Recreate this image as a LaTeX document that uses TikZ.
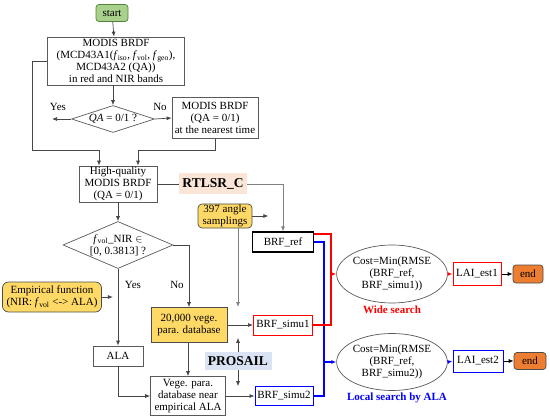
\documentclass[tikz,border=0pt]{standalone}
\usepackage{fontspec}
\setmainfont{Liberation Serif}
\usetikzlibrary{shapes.geometric,arrows.meta}
\definecolor{grfill}{RGB}{169,209,142}
\definecolor{grdraw}{RGB}{84,130,53}
\definecolor{yel}{RGB}{255,217,102}
\definecolor{orng}{RGB}{237,125,49}
\definecolor{peach}{RGB}{251,229,214}
\definecolor{lblue}{RGB}{218,227,243}
\definecolor{lnc}{RGB}{70,70,70}
\begin{document}
\begin{tikzpicture}[x=1pt,y=-1pt,
  font=\fontsize{11}{12}\selectfont,
  box/.style={draw=gray!70!black, line width=0.7pt, fill=white, align=center, inner sep=1pt},
  ybox/.style={box, fill=yel, draw=gray!60!black},
  dia/.style={draw=gray!70!black, line width=0.7pt, diamond, inner sep=0pt},
  ell/.style={draw=gray!70!black, line width=0.7pt, ellipse, inner sep=0pt, align=center},
  arr/.style={draw=lnc, line width=0.7pt, -{Latex[length=5pt,width=4pt]}},
  ln/.style={draw=lnc, line width=0.7pt},
  garr/.style={draw=gray, line width=0.8pt, -{Latex[length=5pt,width=4pt]}},
  rarr/.style={draw=red, line width=1.1pt, -{Latex[length=5pt,width=4pt]}},
  barr/.style={draw=blue, line width=1.1pt, -{Latex[length=5pt,width=4pt]}},
  lbl/.style={inner sep=0pt},
  bigl/.style={font=\fontsize{13.5}{14}\selectfont\bfseries, inner sep=0pt}
]
\useasboundingbox (0,0) rectangle (550,420);

% nodes
\node[box, fill=grfill, draw=grdraw, rounded corners=3pt, minimum width=32pt, minimum height=17pt] (start) at (112,13) {start};
\node[box, minimum width=137pt, minimum height=48pt] (modis) at (116,61)
  {MODIS BRDF\\(MCD43A1(\textit{f}\textsubscript{iso}, \textit{f}\textsubscript{vol}, \textit{f}\textsubscript{geo}),\\MCD43A2 (QA))\\in red and NIR bands};
\node[dia, minimum width=83pt, minimum height=27pt] (d1) at (113,119) {};
\node[lbl] at (d1) {\textit{QA} = 0/1 ?};
\node[box, minimum width=86pt, minimum height=41pt] (box2) at (215,118)
  {MODIS BRDF\\(QA = 0/1)\\at the nearest time};
\node[box, minimum width=78pt, minimum height=35pt] (hq) at (118,184)
  {High-quality\\MODIS BRDF\\(QA = 0/1)};
\node[bigl, fill=peach, minimum width=68pt, minimum height=21pt] (rtlsr) at (213,184) {RTLSR\_C};
\node[ybox, rounded corners=4pt, minimum width=54pt, minimum height=22pt] (ang) at (225,216) {397 angle\\samplings};
\node[box, draw=black, line width=1.2pt, minimum width=61pt, minimum height=20pt] (brfref) at (283,242) {BRF\_ref};
\node[dia, minimum width=110pt, minimum height=47pt] (d2) at (118,245) {};
\node[lbl, align=center] at (d2) {\textit{f}\textsubscript{vol}\_NIR $\in$\\{}[0, 0.3813] ?};
\node[ybox, rounded corners=6pt, minimum width=99pt, minimum height=30pt] (emp) at (52,297)
  {Empirical function\\(NIR: \textit{f}\textsubscript{vol} <-> ALA)};
\node[ybox, minimum width=76pt, minimum height=35pt] (db) at (189,325) {20,000 vege.\\para. database};
\node[box, draw=red, line width=1pt, minimum width=59pt, minimum height=20pt] (simu1) at (283,325) {BRF\_simu1};
\node[box, minimum width=50pt, minimum height=20pt] (ala) at (118,356) {ALA};
\node[bigl, fill=lblue, minimum width=67pt, minimum height=18pt] (prosail) at (238,361) {PROSAIL};
\node[box, minimum width=75pt, minimum height=39pt] (vege) at (188,396) {Vege. para.\\database near\\empirical ALA};
\node[box, draw=blue, line width=1pt, minimum width=58pt, minimum height=19pt] (simu2) at (284,396) {BRF\_simu2};
\node[ell, minimum width=95pt, minimum height=58pt] (e1) at (392,274) {Cost=Min(RMSE\\(BRF\_ref,\\BRF\_simu1))};
\node[box, draw=red, line width=1pt, minimum width=48pt, minimum height=23pt] (lai1) at (477,274) {LAI\_est1};
\node[box, fill=orng, draw=gray!60!black, rounded corners=3pt, minimum width=30pt, minimum height=18pt] (end1) at (528,274) {end};
\node[lbl, text=red, font=\fontsize{11}{12}\selectfont\bfseries] (wide) at (392,310) {Wide search};
\node[ell, minimum width=95pt, minimum height=57pt] (e2) at (392,362) {Cost=Min(RMSE\\(BRF\_ref,\\BRF\_simu2))};
\node[box, draw=blue, line width=1pt, minimum width=50pt, minimum height=22pt] (lai2) at (478,361) {LAI\_est2};
\node[box, fill=orng, draw=gray!60!black, rounded corners=3pt, minimum width=32pt, minimum height=17pt] (end2) at (530,361) {end};
\node[lbl, text=blue, font=\fontsize{11}{12}\selectfont\bfseries] (local) at (397,398) {Local search by ALA};

% labels
\node[lbl] (yes1) at (58,107) {Yes};
\node[lbl] (no1) at (160,107) {No};
\node[lbl] (yes2) at (133,285) {Yes};
\node[lbl] (no2) at (177,285) {No};

% coordinates
\coordinate (yesend) at (52,119);
\coordinate (lcorner) at (32,150);
\coordinate (angend) at (238,307);
\coordinate (rx) at (331,274);
\coordinate (bx) at (324,362);

% connectors
\draw[arr] (start) -- (modis);
\draw[arr] (modis.south -| d1.north) -- (d1.north);
\draw[arr] (d1.west) -- (yesend);
\draw[arr] (d1.east) -- (box2.west);
\draw[arr] (modis.west) -| (lcorner) -| ([xshift=-19pt]hq.north);
\draw[arr] (box2.south) -- ++(0,12) -| ([xshift=20pt]hq.north);
\draw[arr] (hq.south) -- (d2.north);
\draw[ln] (hq.east) -- (rtlsr.west);
\draw[garr] (rtlsr.east) -| (brfref.north);
\draw[arr] (ang.east) -- ++(16,0);
\draw[garr] (ang.south -| angend) -- (angend);
\draw[arr] (d2.east) -| (db.north);
\draw[arr] (d2.south) -- (ala.north);
\draw[arr] (emp.east) -- ++(11,0);
\draw[arr] (db.south -| vege.north) -- (vege.north);
\draw[arr] (ala.south) |- (vege.west);
\draw[arr] (db.east) -- (simu1.west);
\draw[arr] (vege.east) -- (simu2.west);
\draw[arr] (prosail.north) -- ++(0,-14);
\draw[arr] (prosail.south) -- ++(0,16);
\draw[draw=blue, line width=1.1pt] (brfref.east) -| (bx) |- (simu2.east);
\draw[draw=red, line width=1.1pt] ([yshift=8pt]brfref.east) -| (rx) |- (simu1.east);
\draw[rarr] (rx) -- (e1.west);
\draw[barr] (bx) -- (e2.west);
\draw[rarr] (e1.east) -- (lai1.west);
\draw[barr] (e2.east) -- (lai2.west);
\draw[arr, draw=black] (lai1.east) -- (end1.west);
\draw[arr, draw=black] (lai2.east) -- (end2.west);
\end{tikzpicture}
\end{document}
